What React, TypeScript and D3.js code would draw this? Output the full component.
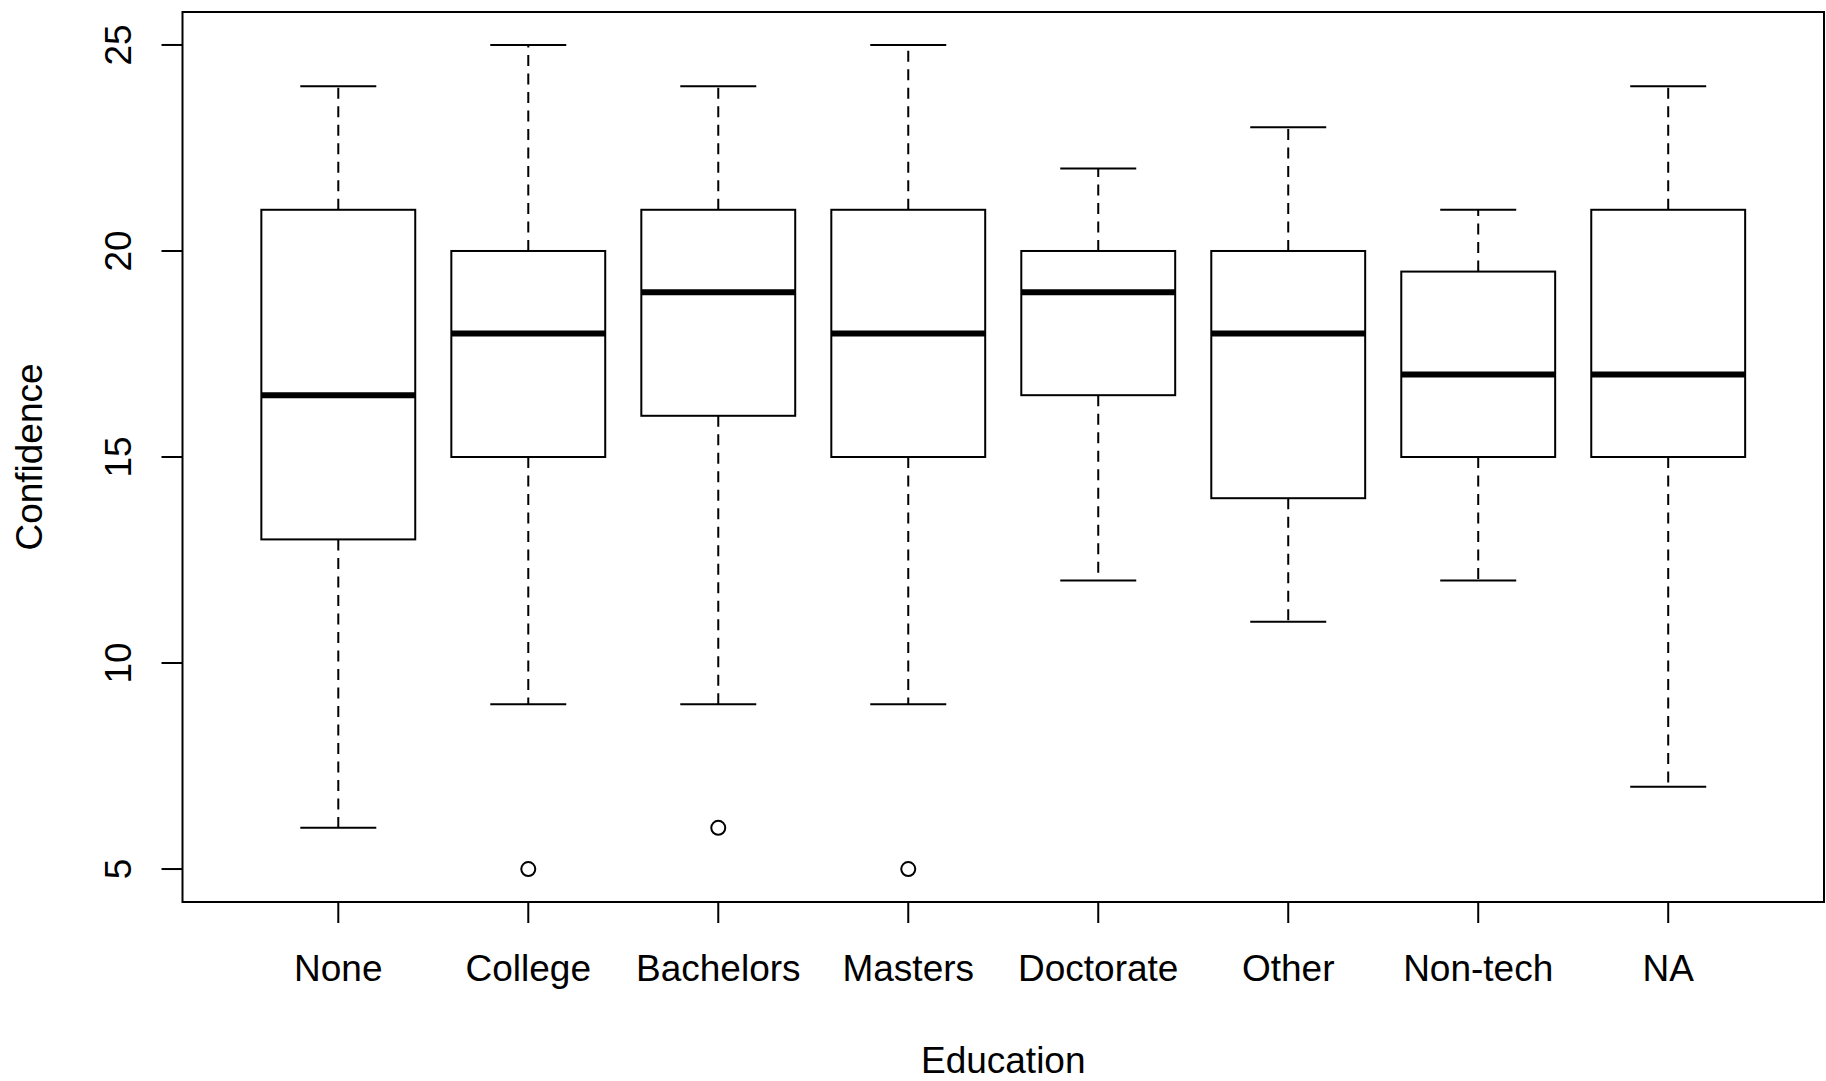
import React from "react";
import * as d3 from "d3";

const categories = ["None", "College", "Bachelors", "Masters", "Doctorate", "Other", "Non-tech", "NA"];
const whiskerLow = [6, 9, 9, 9, 12, 11, 12, 7];
const lowerQuartile = [13, 15, 16, 15, 16.5, 14, 15, 15];
const medians = [16.5, 18, 19, 18, 19, 18, 17, 17];
const upperQuartile = [21, 20, 21, 21, 20, 20, 19.5, 21];
const whiskerHigh = [24, 25, 24, 25, 22, 23, 21, 24];
const outliers = [[], [5], [6], [5], [], [], [], []];
const yTicks = [5, 10, 15, 20, 25];

export default function App() {
  const width = 1826;
  const height = 1081;
  const left = 182.5;
  const right = 1824;
  const top = 12;
  const bottom = 902;
  const font = "'Liberation Sans', Arial, sans-serif";
  const fontSize = 37;

  // R style: xlim 0.5..n+0.5 plus 4% padding
  const xScale = d3.scaleLinear().domain([0.18, 8.82]).range([left, right]);
  const yScale = d3.scaleLinear().domain([4.2, 25.8]).range([bottom, top]);

  const halfBox = xScale(0.405) - xScale(0);
  const halfCap = xScale(0.2) - xScale(0);

  return (
    <svg
      width={width}
      height={height}
      style={{ position: "absolute", left: 0, top: 0, background: "#fff" }}
    >
      <g stroke="#000" fill="none">
        {categories.map((cat, i) => {
          const cx = xScale(i + 1);
          return (
            <g key={cat}>
              {/* whiskers */}
              <line x1={cx} x2={cx} y1={yScale(upperQuartile[i])} y2={yScale(whiskerHigh[i])}
                strokeWidth={2} strokeDasharray="11 7.5" />
              <line x1={cx} x2={cx} y1={yScale(lowerQuartile[i])} y2={yScale(whiskerLow[i])}
                strokeWidth={2} strokeDasharray="11 7.5" />
              <line x1={cx - halfCap} x2={cx + halfCap} y1={yScale(whiskerHigh[i])} y2={yScale(whiskerHigh[i])} strokeWidth={2} />
              <line x1={cx - halfCap} x2={cx + halfCap} y1={yScale(whiskerLow[i])} y2={yScale(whiskerLow[i])} strokeWidth={2} />
              {/* box */}
              <rect x={cx - halfBox} y={yScale(upperQuartile[i])} width={halfBox * 2}
                height={yScale(lowerQuartile[i]) - yScale(upperQuartile[i])} strokeWidth={2} />
              <line x1={cx - halfBox} x2={cx + halfBox} y1={yScale(medians[i])} y2={yScale(medians[i])} strokeWidth={6} />
              {outliers[i].map((v, j) => (
                <circle key={j} cx={cx} cy={yScale(v)} r={7} strokeWidth={2} />
              ))}
            </g>
          );
        })}

        {/* frame */}
        <rect x={left} y={top} width={right - left} height={bottom - top} strokeWidth={2} />

        {/* y ticks */}
        {yTicks.map((t) => (
          <line key={t} x1={left - 21} x2={left} y1={yScale(t)} y2={yScale(t)} strokeWidth={2} />
        ))}
        {/* x ticks */}
        {categories.map((cat, i) => (
          <line key={cat} x1={xScale(i + 1)} x2={xScale(i + 1)} y1={bottom} y2={bottom + 21} strokeWidth={2} />
        ))}
      </g>

      <g fontFamily={font} fontSize={fontSize} fill="#000">
        {yTicks.map((t) => (
          <text key={t} transform={`translate(131,${yScale(t)}) rotate(-90)`} textAnchor="middle">
            {t}
          </text>
        ))}
        {categories.map((cat, i) => (
          <text key={cat} x={xScale(i + 1)} y={981} textAnchor="middle">
            {cat}
          </text>
        ))}
        <text x={(left + right) / 2} y={1073} textAnchor="middle">Education</text>
        <text transform={`translate(42,${(top + bottom) / 2}) rotate(-90)`} textAnchor="middle">
          Confidence
        </text>
      </g>
    </svg>
  );
}
